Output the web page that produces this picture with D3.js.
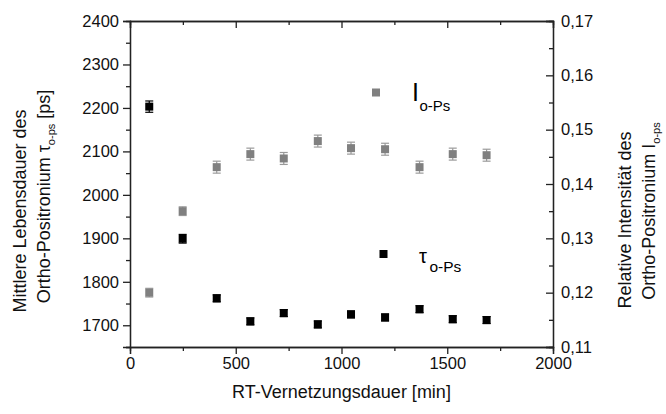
<!DOCTYPE html>
<html>
<head>
<meta charset="utf-8">
<script src="https://cdn.jsdelivr.net/npm/d3@7"></script>
<style>
  body { margin: 0; background: #fff; }
  svg { display: block; font-family: "Liberation Sans", Arial, sans-serif; }
</style>
</head>
<body>
<div id="chart"></div>
<script>
// RT-Vernetzungsdauer [min]
var times = [91, 249, 410, 569, 727, 888, 1045, 1206, 1369, 1526, 1686]
// tau o-Ps [ps] (left axis)
var tau = [2203, 1899, 1762, 1709, 1728, 1702, 1725, 1718, 1737, 1714, 1712]
var tauErr = [13, 10, 8, 8, 8, 8, 8, 8, 8, 8, 8]
// I o-Ps (right axis)
var intensity = [0.1200, 0.1350, 0.1431, 0.1455, 0.1447, 0.1479, 0.1466, 0.1464, 0.1431, 0.1455, 0.1453]
var intErr = [0.0008, 0.0008, 0.0011, 0.0011, 0.0011, 0.0011, 0.0011, 0.0011, 0.0011, 0.0011, 0.0011]

var xTicks = [0, 500, 1000, 1500, 2000]
var leftTicks = [1700, 1800, 1900, 2000, 2100, 2200, 2300, 2400]
var rightTicks = [0.11, 0.12, 0.13, 0.14, 0.15, 0.16, 0.17]

var width = 666, height = 414
var margin = {left: 130, right: 113, top: 21, bottom: 67}
var w = width - margin.left - margin.right
var h = height - margin.top - margin.bottom

var svg = d3.select("#chart").append("svg")
  .attr("width", width).attr("height", height)

var g = svg.append("g").attr("transform", "translate(" + margin.left + "," + margin.top + ")")

var x = d3.scaleLinear().domain([0, 2000]).range([0, w])
var yL = d3.scaleLinear().domain([1650, 2400]).range([h, 0])
var yR = d3.scaleLinear().domain([0.11, 0.17]).range([h, 0])

var de = d3.formatLocale({decimal: ",", thousands: ".", grouping: [3], currency: ["", ""]})
var fmtR = de.format(".2f")

var axisColor = "#222"
var fs = "16.5px"

// minor ticks first
g.append("g").attr("transform", "translate(0," + h + ")")
  .call(d3.axisBottom(x).tickValues(d3.range(250, 2000, 500)).tickSize(4).tickFormat(""))
g.append("g")
  .call(d3.axisBottom(x).tickValues(d3.range(250, 2000, 500)).tickSize(4).tickFormat(""))
g.append("g")
  .call(d3.axisLeft(yL).tickValues(d3.range(1650, 2400, 100)).tickSize(4).tickFormat(""))
g.append("g").attr("transform", "translate(" + w + ",0)")
  .call(d3.axisRight(yR).tickValues(d3.range(0.115, 0.17, 0.01)).tickSize(-4).tickFormat(""))

// major axes
g.append("g").attr("class", "xb").attr("transform", "translate(0," + h + ")")
  .call(d3.axisBottom(x).tickValues(xTicks).tickSize(7).tickPadding(3).tickFormat(d3.format("d")))
g.append("g")
  .call(d3.axisBottom(x).tickValues(xTicks).tickSize(7).tickFormat(""))
g.append("g").attr("class", "yl")
  .call(d3.axisLeft(yL).tickValues(leftTicks).tickSize(7).tickPadding(4).tickFormat(d3.format("d")))
g.append("g").attr("class", "yr").attr("transform", "translate(" + w + ",0)")
  .call(d3.axisRight(yR).tickValues(rightTicks).tickSize(-7).tickPadding(8).tickFormat(fmtR))

g.selectAll(".domain").attr("stroke", axisColor).attr("stroke-width", 1.3)
g.selectAll(".tick line").attr("stroke", axisColor).attr("stroke-width", 1.3)
g.selectAll(".tick text").attr("fill", "#111").style("font-size", fs)
  .style("font-family", "Liberation Sans, Arial, sans-serif")

// error bars + squares
var ms = 8, cap = 4

function series(vals, errs, yS, fill, errColor) {
  var s = g.append("g")
  var idx = d3.range(vals.length)
  s.selectAll("line.v").data(idx).enter().append("line")
    .attr("x1", function(i) { return x(times[i]) }).attr("x2", function(i) { return x(times[i]) })
    .attr("y1", function(i) { return yS(vals[i] - errs[i]) }).attr("y2", function(i) { return yS(vals[i] + errs[i]) })
    .attr("stroke", errColor).attr("stroke-width", 1.2)
  ;[-1, 1].forEach(function(sgn) {
    s.selectAll("line.c" + sgn).data(idx).enter().append("line")
      .attr("x1", function(i) { return x(times[i]) - cap }).attr("x2", function(i) { return x(times[i]) + cap })
      .attr("y1", function(i) { return yS(vals[i] + sgn * errs[i]) }).attr("y2", function(i) { return yS(vals[i] + sgn * errs[i]) })
      .attr("stroke", errColor).attr("stroke-width", 1.2)
  })
  s.selectAll("rect").data(idx).enter().append("rect")
    .attr("x", function(i) { return x(times[i]) - ms / 2 })
    .attr("y", function(i) { return yS(vals[i]) - ms / 2 })
    .attr("width", ms).attr("height", ms)
    .attr("fill", fill)
}

series(intensity, intErr, yR, "#808080", "#9a9a9a")
series(tau, tauErr, yL, "#000", "#000")

// legend labels
svg.append("rect").attr("x", 372).attr("y", 88.5).attr("width", ms).attr("height", ms).attr("fill", "#808080")
var lt1 = svg.append("text").attr("x", 412).attr("y", 100.5).style("font-size", "25px").attr("fill", "#000")
lt1.append("tspan").text("I")
svg.append("text").attr("x", 419.5).attr("y", 110.7).style("font-size", "15px").text("o-Ps")

svg.append("rect").attr("x", 379.5).attr("y", 250).attr("width", ms).attr("height", ms).attr("fill", "#000")
svg.append("text").attr("x", 419).attr("y", 262.5).style("font-size", "20px").text("τ")
svg.append("text").attr("x", 429.5).attr("y", 272.3).style("font-size", "15.5px").text("o-Ps")

// axis titles
svg.append("text").attr("x", margin.left + w / 2).attr("y", 398)
  .attr("text-anchor", "middle").style("font-size", "18px").attr("fill", "#111")
  .text("RT-Vernetzungsdauer [min]")

svg.append("text").attr("transform", "translate(26,211) rotate(-90)")
  .attr("text-anchor", "middle").style("font-size", "18px").attr("fill", "#111")
  .text("Mittlere Lebensdauer des")
var l2 = svg.append("text").attr("transform", "translate(50,196.5) rotate(-90)")
  .attr("text-anchor", "middle").style("font-size", "18px").attr("fill", "#111")
l2.append("tspan").text("Ortho-Positronium ")
l2.append("tspan").text("τ")
l2.append("tspan").attr("dy", 5).style("font-size", "11px").text("o-ps")
l2.append("tspan").attr("dy", -5).text(" [ps]")

svg.append("text").attr("transform", "translate(631,220) rotate(-90)")
  .attr("text-anchor", "middle").style("font-size", "18px").attr("fill", "#111")
  .text("Relative Intensität des")
var r2 = svg.append("text").attr("transform", "translate(655,211) rotate(-90)")
  .attr("text-anchor", "middle").style("font-size", "18px").attr("fill", "#111")
r2.append("tspan").text("Ortho-Positronium I")
r2.append("tspan").attr("dy", 5).style("font-size", "11px").text("o-ps")
</script>
</body>
</html>
